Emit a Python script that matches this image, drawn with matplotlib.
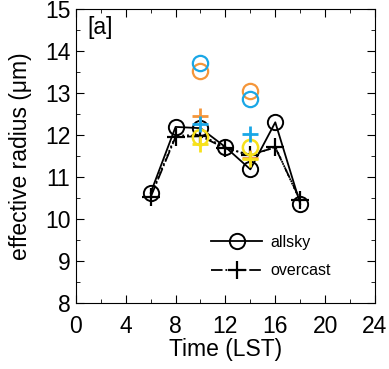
import matplotlib
matplotlib.use("Agg")
import matplotlib.pyplot as plt
from matplotlib.ticker import MultipleLocator
from matplotlib.lines import Line2D

plt.rcParams['font.family'] = ['Liberation Sans', 'DejaVu Sans']

hours = [6, 8, 10, 12, 14, 16, 18]
allsky = [10.62, 12.19, 12.16, 11.71, 11.18, 12.30, 10.36]
overcast = [10.52, 11.95, 11.97, 11.68, 11.53, 11.70, 10.45]
dotted = [10.55, 11.98, 12.00, 11.70, 11.50, 11.72, 10.42]

# coloured subsets at 10 and 14 LST
sub_hours = [10, 14]
cyan_circ = [13.70, 12.86]
orange_circ = [13.52, 13.05]
yellow_circ = [11.96, 11.70]
cyan_plus = [12.27, 12.01]
orange_plus = [12.45, 11.45]
yellow_plus = [11.78, 11.42]

cyan = '#1aa7e6'
orange = '#f5963a'
yellow = '#f7e11b'

fig = plt.figure(figsize=(3.89, 3.69), dpi=100)
ax = fig.add_axes([0.195, 0.179, 0.769, 0.797])

ax.plot(hours, dotted, ':', color='black', lw=1.3)
ax.plot(hours, overcast, '-.', color='black', lw=1.3, marker='+', ms=13, mew=1.6)
ax.plot(hours, allsky, '-', color='black', lw=1.3, marker='o', ms=11, mfc='none', mew=1.4)

ax.plot(sub_hours, orange_circ, 'o', color=orange, ms=11, mfc='none', mew=1.6)
ax.plot(sub_hours, cyan_circ, 'o', color=cyan, ms=11, mfc='none', mew=1.6)
ax.plot(sub_hours, yellow_circ, 'o', color=yellow, ms=11, mfc='none', mew=1.8)
ax.plot(sub_hours, orange_plus, '+', color=orange, ms=12, mew=2)
ax.plot(sub_hours, cyan_plus, '+', color=cyan, ms=12, mew=2)
ax.plot(sub_hours, yellow_plus, '+', color=yellow, ms=12, mew=2)

ax.set_xlim(0, 24)
ax.set_ylim(8, 15)
ax.xaxis.set_major_locator(MultipleLocator(4))
ax.xaxis.set_minor_locator(MultipleLocator(2))
ax.yaxis.set_major_locator(MultipleLocator(1))
ax.yaxis.set_minor_locator(MultipleLocator(0.5))
ax.tick_params(which='both', direction='in', top=True, right=True, labelsize=16.5)
ax.tick_params(which='major', length=6)
ax.tick_params(which='minor', length=3)
ax.tick_params(axis='x', which='major', pad=9)
ax.tick_params(axis='y', which='major', pad=4)
ax.set_xlabel('Time (LST)', fontsize=16.5, labelpad=0)
ax.set_ylabel('effective radius (\u03bcm)', fontsize=16.5, labelpad=9)
ax.text(0.04, 0.975, '[a]', transform=ax.transAxes, fontsize=16.5, va='top')

handles = [
    Line2D([], [], color='black', lw=1.3, marker='o', ms=11, mfc='none', mew=1.4),
    Line2D([], [], color='black', lw=1.3, ls='-.', marker='+', ms=13, mew=1.6),
]
ax.legend(handles, ['allsky', 'overcast'], loc='lower right', bbox_to_anchor=(0.90, 0.035),
          frameon=False, fontsize=11.5, handlelength=3.2, handletextpad=0.5,
          labelspacing=0.85)

fig.savefig('out.png', dpi=100)
